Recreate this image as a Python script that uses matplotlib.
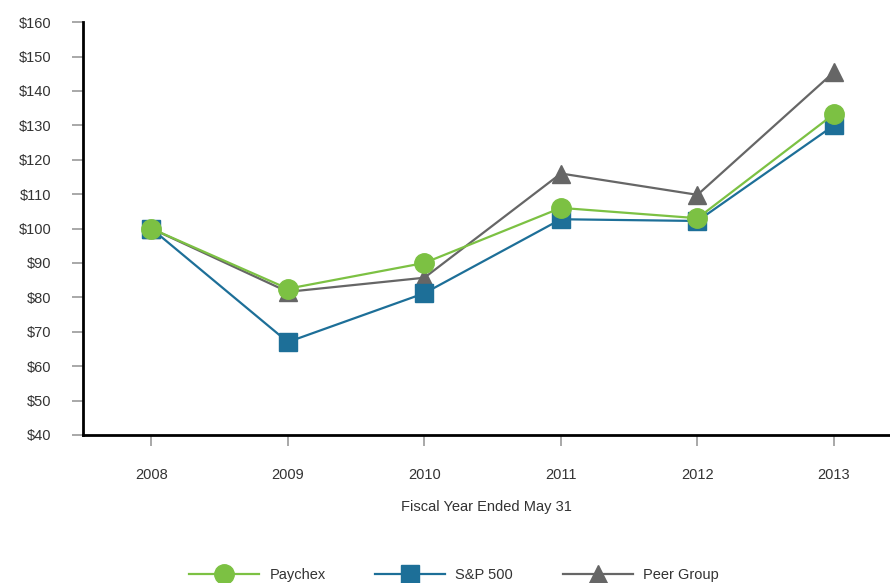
import matplotlib
matplotlib.use("Agg")
import matplotlib.pyplot as plt
from matplotlib.ticker import FuncFormatter

plt.rcParams["font.family"] = ["Liberation Sans", "DejaVu Sans"]

years = [2008, 2009, 2010, 2011, 2012, 2013]
paychex = [100, 82.5, 90, 106, 103, 133.3]
sp500 = [100, 67, 81.2, 102.7, 102.2, 130]
peer = [100, 81.6, 85.7, 116, 109.8, 145.5]
yticks = [40, 50, 60, 70, 80, 90, 100, 110, 120, 130, 140, 150, 160]

green = "#7cc143"
blue = "#1d6f98"
gray = "#666666"

fig = plt.figure(figsize=(8.9, 5.83), dpi=100)
ax = fig.add_axes([0.0933, 0.254, 0.9067, 0.708])

ax.plot(years, peer, color=gray, lw=1.6, marker="^", ms=13, mec=gray, mfc=gray, label="Peer Group", zorder=2)
ax.plot(years, sp500, color=blue, lw=1.6, marker="s", ms=12.5, mec=blue, mfc=blue, label="S&P 500", zorder=3)
ax.plot(years, paychex, color=green, lw=1.6, marker="o", ms=14, mec=green, mfc=green, label="Paychex", zorder=4)

ax.set_xlim(2007.5, 2013.41)
ax.set_ylim(40, 160)
ax.set_xticks(years)
ax.set_yticks(yticks)
ax.yaxis.set_major_formatter(FuncFormatter(lambda v, p: f"${int(v)}"))

for s in ["top", "right"]:
    ax.spines[s].set_visible(False)
for s in ["left", "bottom"]:
    ax.spines[s].set_color("black")
    ax.spines[s].set_linewidth(2)

ax.tick_params(axis="both", colors="#999999", labelcolor="#333333", labelsize=10.5, length=8, width=1.2, direction="out")
ax.tick_params(axis="x", pad=16)
ax.tick_params(axis="y", pad=15)
ax.set_xlabel("Fiscal Year Ended May 31", fontsize=10.5, color="#333333", labelpad=13)

h, l = ax.get_legend_handles_labels()
order = [2, 1, 0]
fig.legend([h[i] for i in order], [l[i] for i in order], loc="center", bbox_to_anchor=(0.51, 0.013),
           ncol=3, frameon=False, fontsize=10.5, handlelength=4.8, columnspacing=3.4, handletextpad=0.7,
           labelcolor="#333333")

fig.savefig("out.png", dpi=100, facecolor="white")
